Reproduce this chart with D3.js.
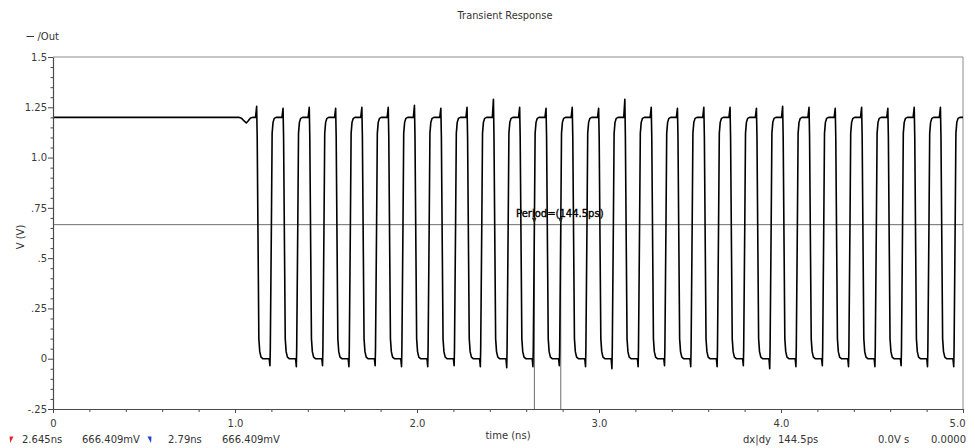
<!DOCTYPE html>
<html>
<head>
<meta charset="utf-8">
<script src="https://cdn.jsdelivr.net/npm/d3@7"></script>
<style>
  html, body { margin: 0; padding: 0; background: #fff; }
  svg { display: block; }
  text { font-family: "DejaVu Sans", sans-serif; }
</style>
</head>
<body>
<script>
// ---- axis ticks ----
const xTicks = [0, 1, 2, 3, 4, 5];
const xTickLabels = ["0", "1.0", "2.0", "3.0", "4.0", "5.0"];
const yTicks = [-0.25, 0, 0.25, 0.5, 0.75, 1.0, 1.25, 1.5];
const yTickLabels = ["-.25", "0", ".25", ".5", ".75", "1.0", "1.25", "1.5"];

// ---- /Out waveform (time in ns, volts) ----
// settled output before oscillation starts
const startTrace = [
  [0.000, 1.200], [1.020, 1.200], [1.035, 1.196], [1.050, 1.182],
  [1.062, 1.172], [1.072, 1.182], [1.085, 1.197], [1.100, 1.200], [1.113, 1.200]
];
// falling edges: time of the kick-up spike and its peak voltage
const fallTimes = [1.119, 1.264, 1.408, 1.553, 1.697, 1.842, 1.986, 2.131, 2.275,
  2.420, 2.564, 2.709, 2.853, 2.998, 3.142, 3.287, 3.431, 3.576, 3.720, 3.865,
  4.009, 4.154, 4.298, 4.443, 4.587, 4.732, 4.876];
const fallPeaks = [1.255, 1.245, 1.250, 1.245, 1.250, 1.250, 1.260, 1.245, 1.250,
  1.290, 1.250, 1.245, 1.250, 1.245, 1.290, 1.250, 1.245, 1.250, 1.250, 1.245,
  1.255, 1.250, 1.245, 1.250, 1.245, 1.250, 1.250];
// rising edges: time the output crosses the marker level, and the dip before it
const riseTimes = [1.200, 1.345, 1.489, 1.634, 1.778, 1.923, 2.067, 2.212, 2.356,
  2.501, 2.645, 2.790, 2.934, 3.079, 3.223, 3.368, 3.512, 3.657, 3.801, 3.946,
  4.090, 4.235, 4.379, 4.524, 4.668, 4.813, 4.957];
const riseDips = [-0.035, -0.040, -0.035, -0.040, -0.035, -0.040, -0.040, -0.035, -0.040,
  -0.045, -0.040, -0.035, -0.040, -0.050, -0.040, -0.035, -0.040, -0.040, -0.035, -0.050,
  -0.040, -0.035, -0.040, -0.040, -0.035, -0.040, -0.040];
// edge profiles: [offset ns, volts]; null marks the spike sample
const fallEdge = [[-0.006, 1.200], [0.000, null], [0.003, 1.100], [0.012, 0.100],
  [0.017, 0.035], [0.024, 0.008], [0.034, 0.000]];
const riseEdge = [[-0.012, 0.000], [-0.008, null], [-0.006, 0.050], [0.000, 0.666],
  [0.004, 1.120], [0.009, 1.175], [0.016, 1.195], [0.026, 1.200]];
const endTrace = [[5.000, 1.200]];

// ---- markers ----
const markerTimes = [2.645, 2.79];
const markerLevel = 0.666409;
const markerColors = ["#e8242b", "#1f3fd6"];

// ---- layout ----
const W = 975, H = 448;
const x = d3.scaleLinear().domain([0, 5]).range([53, 963]);
const y = d3.scaleLinear().domain([-0.25, 1.5]).range([409, 57]);

const svg = d3.select("body").append("svg").attr("width", W).attr("height", H);

svg.append("defs").append("clipPath").attr("id", "plotClip")
  .append("rect").attr("x", 53).attr("y", 57).attr("width", 910).attr("height", 352);

// frame (top and right)
svg.append("line").attr("x1", 53).attr("x2", 963).attr("y1", 57).attr("y2", 57)
  .attr("stroke", "#8c8c8c").attr("stroke-width", 1.2);
svg.append("line").attr("x1", 963).attr("x2", 963).attr("y1", 57).attr("y2", 409)
  .attr("stroke", "#a0a0a0").attr("stroke-width", 1.2);

// marker level line and vertical markers
svg.append("line").attr("x1", x(0)).attr("x2", x(5))
  .attr("y1", y(markerLevel)).attr("y2", y(markerLevel))
  .attr("stroke", "#6e6e6e").attr("stroke-width", 1);
svg.selectAll(".vmark").data(markerTimes).join("line")
  .attr("x1", d => x(d)).attr("x2", d => x(d))
  .attr("y1", y(markerLevel)).attr("y2", y(-0.25))
  .attr("stroke", "#6e6e6e").attr("stroke-width", 1);

// build the trace
const trace = startTrace.slice();
fallTimes.forEach((tf, i) => {
  fallEdge.forEach(([dt, v]) => trace.push([tf + dt, v === null ? fallPeaks[i] : v]));
  const tr = riseTimes[i];
  riseEdge.forEach(([dt, v]) => trace.push([tr + dt, v === null ? riseDips[i] : v]));
});
endTrace.forEach(p => trace.push(p));

const line = d3.line().x(d => x(d[0])).y(d => y(d[1]));
svg.append("path").datum(trace)
  .attr("clip-path", "url(#plotClip)")
  .attr("d", line)
  .attr("fill", "none").attr("stroke", "#000").attr("stroke-width", 1.6)
  .attr("stroke-linejoin", "round");

// marker heads at the crossings
svg.selectAll(".mhead").data(markerTimes).join("path")
  .attr("d", d => {
    const cx = x(d), cy = y(markerLevel) - 1;
    return `M${cx - 2.5},${cy - 6}L${cx + 2},${cy - 6}L${cx},${cy}Z`;
  })
  .attr("fill", "#222");

svg.append("text").attr("x", 516).attr("y", 217)
  .attr("font-size", 10).attr("fill", "#000")
  .attr("stroke", "#000").attr("stroke-width", 0.35)
  .text("Period=(144.5ps)");

// axes
function styleAxis(g) {
  g.select(".domain").attr("stroke", "#4a4a4a").attr("stroke-width", 1.2);
  g.selectAll(".tick line").attr("stroke", "#4a4a4a");
  g.selectAll(".tick text").attr("fill", "#3a3a3a")
    .attr("font-family", "DejaVu Sans, sans-serif").attr("font-size", 10);
}

const yMinor = d3.range(-0.25, 1.5001, 0.05).filter(v => Math.abs(Math.round(v * 4) - v * 4) > 1e-6);
svg.append("g").attr("transform", "translate(53,0)")
  .call(d3.axisLeft(y).tickValues(yMinor).tickSize(2.5).tickFormat(""))
  .call(g => g.select(".domain").remove())
  .call(g => g.selectAll(".tick line").attr("stroke", "#4a4a4a"));
svg.append("g").attr("transform", "translate(53,0)")
  .call(d3.axisLeft(y).tickValues(yTicks).tickSizeInner(5).tickSizeOuter(0).tickPadding(1)
    .tickFormat((d, i) => yTickLabels[i]))
  .call(styleAxis);

const xMinor = d3.range(0.2, 5, 0.2).filter(v => Math.abs(Math.round(v) - v) > 1e-6);
svg.append("g").attr("transform", "translate(0,409)")
  .call(d3.axisBottom(x).tickValues(xMinor).tickSize(3).tickFormat(""))
  .call(g => g.select(".domain").remove())
  .call(g => g.selectAll(".tick line").attr("stroke", "#4a4a4a"));
svg.append("g").attr("transform", "translate(0,409)")
  .call(d3.axisBottom(x).tickValues(xTicks).tickSizeInner(4).tickSizeOuter(0).tickPadding(7)
    .tickFormat((d, i) => xTickLabels[i]))
  .call(styleAxis)
  .call(g => g.selectAll(".tick text").filter(d => d === 5)
    .attr("text-anchor", "end").attr("dx", "2"));

// titles
svg.append("text").attr("x", 505).attr("y", 19).attr("text-anchor", "middle")
  .attr("font-size", 9.8).attr("fill", "#333").text("Transient Response");
svg.append("text").attr("x", 508).attr("y", 439).attr("text-anchor", "middle")
  .attr("font-size", 10).attr("fill", "#333").text("time (ns)");
svg.append("text").attr("transform", "translate(23.5,237) rotate(-90)")
  .attr("text-anchor", "middle").attr("font-size", 10).attr("fill", "#333").text("V (V)");

// legend
svg.append("line").attr("x1", 26.5).attr("x2", 34).attr("y1", 36.5).attr("y2", 36.5)
  .attr("stroke", "#333").attr("stroke-width", 1);
svg.append("text").attr("x", 37.5).attr("y", 40).attr("font-size", 10)
  .attr("fill", "#333").text("/Out");

// status line
svg.append("path").attr("d", "M9.5,436.5L13.5,436.5L10.2,443Z").attr("fill", markerColors[0]);
svg.append("path").attr("d", "M147.5,436.5L151.5,436.5L151,443Z").attr("fill", markerColors[1]);
const status = [
  [22, "2.645ns"], [82, "666.409mV"], [168, "2.79ns"], [222, "666.409mV"],
  [743, "dx|dy"], [778, "144.5ps"], [878, "0.0V s"], [931, "0.0000"]
];
svg.selectAll(".status").data(status).join("text")
  .attr("x", d => d[0]).attr("y", 442.5).attr("font-size", 10).attr("fill", "#333")
  .text(d => d[1]);
</script>
</body>
</html>
